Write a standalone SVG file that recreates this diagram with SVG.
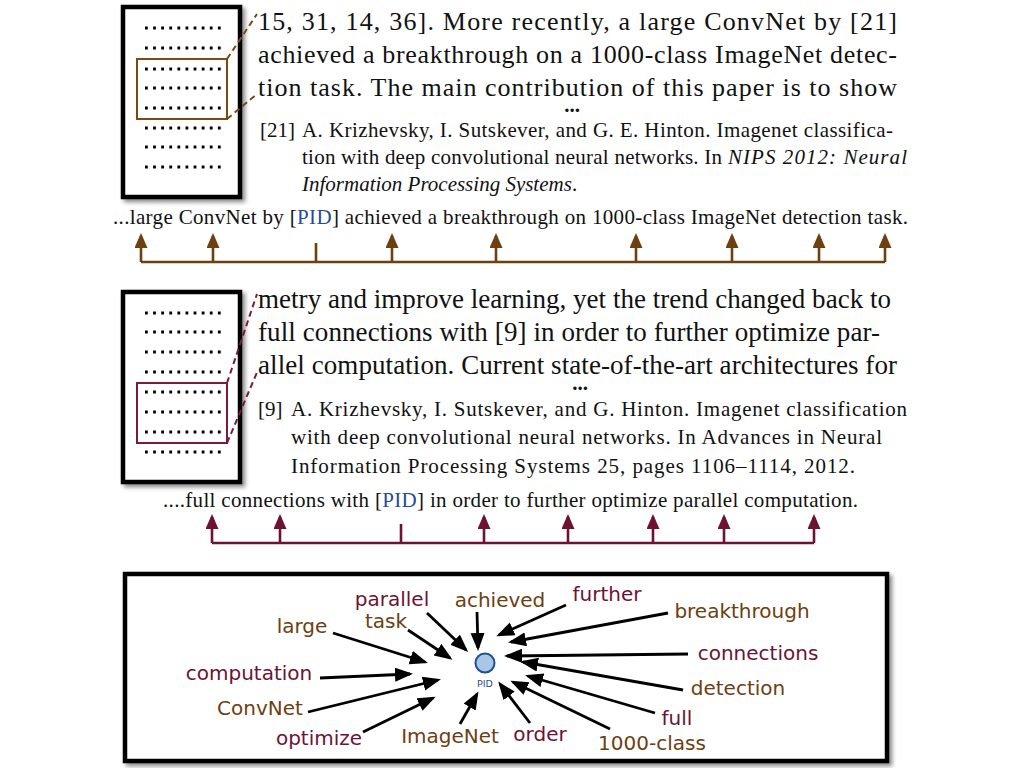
<svg xmlns="http://www.w3.org/2000/svg" width="1024" height="768" viewBox="0 0 1024 768">
<style>
.serif{font-family:"Liberation Serif","Times New Roman",serif;fill:#111}
.para{font-size:26px}
.para2{font-size:27px}
.ref{font-size:21px}
.cite{font-size:21px}
.it{font-style:italic}
.pid{fill:#1f4e96}
.sans{font-family:"DejaVu Sans",Verdana,sans-serif;font-size:20px}
.brown{fill:#6e4010}
.maroon{fill:#6e1234}
.page{fill:#fff;stroke:#000;stroke-width:4.5}
.dots{stroke:#000;stroke-width:2.8;stroke-dasharray:2.8 5.3}
.hlB{fill:none;stroke:#7a4a14;stroke-width:2}
.hlM{fill:none;stroke:#7a1a3c;stroke-width:2}
.dashB{fill:none;stroke:#7a4a14;stroke-width:2;stroke-dasharray:6 4}
.dashM{fill:none;stroke:#7a1a3c;stroke-width:2;stroke-dasharray:6 4}
.cB{fill:none;stroke:#6e4010;stroke-width:2.6}
.cM{fill:none;stroke:#6e1234;stroke-width:2.6}
.k{fill:none;stroke:#000;stroke-width:2.8}
.ell{font-size:21px;font-weight:bold}
</style>
<defs>
<filter id="sh" x="-10%" y="-10%" width="130%" height="130%">
<feDropShadow dx="3" dy="3" stdDeviation="2" flood-color="#000" flood-opacity="0.45"/>
</filter>
<marker id="aB" markerUnits="userSpaceOnUse" markerWidth="16" markerHeight="14" refX="12" refY="6.5" orient="auto"><path d="M0,0 L15,6.5 L0,13 z" fill="#6e4010"/></marker>
<marker id="aM" markerUnits="userSpaceOnUse" markerWidth="16" markerHeight="14" refX="12" refY="6.5" orient="auto"><path d="M0,0 L15,6.5 L0,13 z" fill="#6e1234"/></marker>
<marker id="aK" markerUnits="userSpaceOnUse" markerWidth="19" markerHeight="15" refX="15" refY="7" orient="auto"><path d="M0,0 L18,7 L0,14 z" fill="#000"/></marker>
</defs>
<rect width="1024" height="768" fill="#fff"/>

<!-- Top page -->
<g id="page1">
<rect class="page" x="123" y="7" width="117" height="190" filter="url(#sh)"/>
<g>
<line class="dots" x1="145" y1="28" x2="221" y2="28"/>
<line class="dots" x1="145" y1="48" x2="221" y2="48"/>
<line class="dots" x1="145" y1="69" x2="221" y2="69"/>
<line class="dots" x1="145" y1="88" x2="221" y2="88"/>
<line class="dots" x1="145" y1="108" x2="221" y2="108"/>
<line class="dots" x1="145" y1="128" x2="221" y2="128"/>
<line class="dots" x1="145" y1="147" x2="221" y2="147"/>
<line class="dots" x1="145" y1="167" x2="221" y2="167"/>
</g>
<rect class="hlB" x="137" y="59" width="90" height="60"/>
<path class="dashB" d="M227,59 L257,14 M227,119 L257,94"/>
</g>

<g id="text1" class="serif">
<text class="para" x="258" y="30" textLength="639" lengthAdjust="spacing">15, 31, 14, 36]. More recently, a large ConvNet by [21]</text>
<text class="para" x="258" y="63" textLength="639" lengthAdjust="spacing">achieved a breakthrough on a 1000-class ImageNet detec-</text>
<text class="para" x="258" y="96" textLength="639" lengthAdjust="spacing">tion task. The main contribution of this paper is to show</text>
<text class="ell" x="572" y="112" text-anchor="middle">...</text>
<text class="ref" x="260" y="137">[21]</text>
<text class="ref" x="302" y="137" textLength="591" lengthAdjust="spacing">A. Krizhevsky, I. Sutskever, and G. E. Hinton. Imagenet classifica-</text>
<text class="ref" x="302" y="164" textLength="420" lengthAdjust="spacing">tion with deep convolutional neural networks. In</text>
<text class="ref it" x="728" y="164" textLength="179" lengthAdjust="spacing">NIPS 2012: Neural</text>
<text class="ref" x="302" y="191"><tspan class="it">Information Processing Systems</tspan>.</text>
</g>

<g id="cite1" class="serif">
<text class="cite" x="113" y="224" textLength="795" lengthAdjust="spacing">...large ConvNet by [<tspan class="pid">PID</tspan>] achieved a breakthrough on 1000-class ImageNet detection task.</text>
</g>

<g id="connectors1">
<path class="cB" d="M141,262 L885,262 M316,262 L316,243"/>
<path class="cB" marker-end="url(#aB)" d="M141,262 L141,236"/>
<path class="cB" marker-end="url(#aB)" d="M213,262 L213,236"/>
<path class="cB" marker-end="url(#aB)" d="M392,262 L392,236"/>
<path class="cB" marker-end="url(#aB)" d="M496,262 L496,236"/>
<path class="cB" marker-end="url(#aB)" d="M636,262 L636,236"/>
<path class="cB" marker-end="url(#aB)" d="M732,262 L732,236"/>
<path class="cB" marker-end="url(#aB)" d="M819,262 L819,236"/>
<path class="cB" marker-end="url(#aB)" d="M885,262 L885,236"/>
</g>

<!-- Middle page -->
<g id="page2">
<rect class="page" x="123" y="292" width="117" height="190" filter="url(#sh)"/>
<g>
<line class="dots" x1="145" y1="313" x2="221" y2="313"/>
<line class="dots" x1="145" y1="332" x2="221" y2="332"/>
<line class="dots" x1="145" y1="352" x2="221" y2="352"/>
<line class="dots" x1="145" y1="372" x2="221" y2="372"/>
<line class="dots" x1="145" y1="392" x2="221" y2="392"/>
<line class="dots" x1="145" y1="412" x2="221" y2="412"/>
<line class="dots" x1="145" y1="432" x2="221" y2="432"/>
<line class="dots" x1="145" y1="452" x2="221" y2="452"/>
</g>
<rect class="hlM" x="137" y="383" width="90" height="60"/>
<path class="dashM" d="M227,383 L257,294 M227,443 L258,370"/>
</g>

<g id="text2" class="serif">
<text class="para2" x="258" y="308" textLength="633" lengthAdjust="spacing">metry and improve learning, yet the trend changed back to</text>
<text class="para2" x="258" y="341" textLength="622" lengthAdjust="spacing">full connections with [9] in order to further optimize par-</text>
<text class="para2" x="258" y="374" textLength="639" lengthAdjust="spacing">allel computation. Current state-of-the-art architectures for</text>
<text class="ell" x="580" y="390" text-anchor="middle">...</text>
<text class="ref" x="258" y="416">[9]</text>
<text class="ref" x="291" y="416" textLength="616" lengthAdjust="spacing">A. Krizhevsky, I. Sutskever, and G. Hinton. Imagenet classification</text>
<text class="ref" x="291" y="444" textLength="591" lengthAdjust="spacing">with deep convolutional neural networks. In Advances in Neural</text>
<text class="ref" x="291" y="473" textLength="564" lengthAdjust="spacing">Information Processing Systems 25, pages 1106–1114, 2012.</text>
</g>

<g id="cite2" class="serif">
<text class="cite" x="163" y="507" textLength="695" lengthAdjust="spacing">....full connections with [<tspan class="pid">PID</tspan>] in order to further optimize parallel computation.</text>
</g>

<g id="connectors2">
<path class="cM" d="M212,543 L814,543 M401,543 L401,524"/>
<path class="cM" marker-end="url(#aM)" d="M212,543 L212,517"/>
<path class="cM" marker-end="url(#aM)" d="M280,543 L280,517"/>
<path class="cM" marker-end="url(#aM)" d="M484,543 L484,517"/>
<path class="cM" marker-end="url(#aM)" d="M568,543 L568,517"/>
<path class="cM" marker-end="url(#aM)" d="M653,543 L653,517"/>
<path class="cM" marker-end="url(#aM)" d="M724,543 L724,517"/>
<path class="cM" marker-end="url(#aM)" d="M814,543 L814,517"/>
</g>

<!-- Bottom graph -->
<g id="graphbox">
<rect class="page" x="125" y="574" width="762" height="187" filter="url(#sh)"/>
</g>

<g id="graph-edges">
<path class="k" marker-end="url(#aK)" d="M333,633 L425,662"/>
<path class="k" marker-end="url(#aK)" d="M408,630 L450,658"/>
<path class="k" marker-end="url(#aK)" d="M427,613 L466,650"/>
<path class="k" marker-end="url(#aK)" d="M477,612 L478,648"/>
<path class="k" marker-end="url(#aK)" d="M566,605 L499,635"/>
<path class="k" marker-end="url(#aK)" d="M668,613 L511,642"/>
<path class="k" marker-end="url(#aK)" d="M688,654 L507,656"/>
<path class="k" marker-end="url(#aK)" d="M683,690 L523,662"/>
<path class="k" marker-end="url(#aK)" d="M655,713 L528,676"/>
<path class="k" marker-end="url(#aK)" d="M610,729 L513,682"/>
<path class="k" marker-end="url(#aK)" d="M530,723 L500,684"/>
<path class="k" marker-end="url(#aK)" d="M460,724 L477,694"/>
<path class="k" marker-end="url(#aK)" d="M363,732 L433,698"/>
<path class="k" marker-end="url(#aK)" d="M308,712 L438,680"/>
<path class="k" marker-end="url(#aK)" d="M320,678 L410,674"/>
</g>

<g id="node-pid">
<circle cx="485" cy="663" r="9.5" fill="#a9c6e6" stroke="#1f4e96" stroke-width="2"/>
<text x="485" y="687" font-family="DejaVu Sans,sans-serif" font-size="9.5" fill="#1f4e96" text-anchor="middle">PID</text>
</g>

<g class="sans" text-anchor="middle">
<g id="w-parallel"><text class="maroon" x="392" y="606">parallel</text></g>
<g id="w-achieved"><text class="brown" x="500" y="607">achieved</text></g>
<g id="w-further"><text class="maroon" x="607" y="601">further</text></g>
<g id="w-breakthrough"><text class="brown" x="742" y="618">breakthrough</text></g>
<g id="w-large"><text class="brown" x="302" y="633">large</text></g>
<g id="w-task"><text class="brown" x="386" y="628">task</text></g>
<g id="w-connections"><text class="maroon" x="758" y="660">connections</text></g>
<g id="w-computation"><text class="maroon" x="249" y="680">computation</text></g>
<g id="w-detection"><text class="brown" x="738" y="695">detection</text></g>
<g id="w-convnet"><text class="brown" x="260" y="715">ConvNet</text></g>
<g id="w-full"><text class="maroon" x="677" y="725">full</text></g>
<g id="w-optimize"><text class="maroon" x="319" y="745">optimize</text></g>
<g id="w-imagenet"><text class="brown" x="450" y="743">ImageNet</text></g>
<g id="w-order"><text class="maroon" x="540" y="741">order</text></g>
<g id="w-1000class"><text class="brown" x="652" y="750">1000-class</text></g>
</g>
</svg>
